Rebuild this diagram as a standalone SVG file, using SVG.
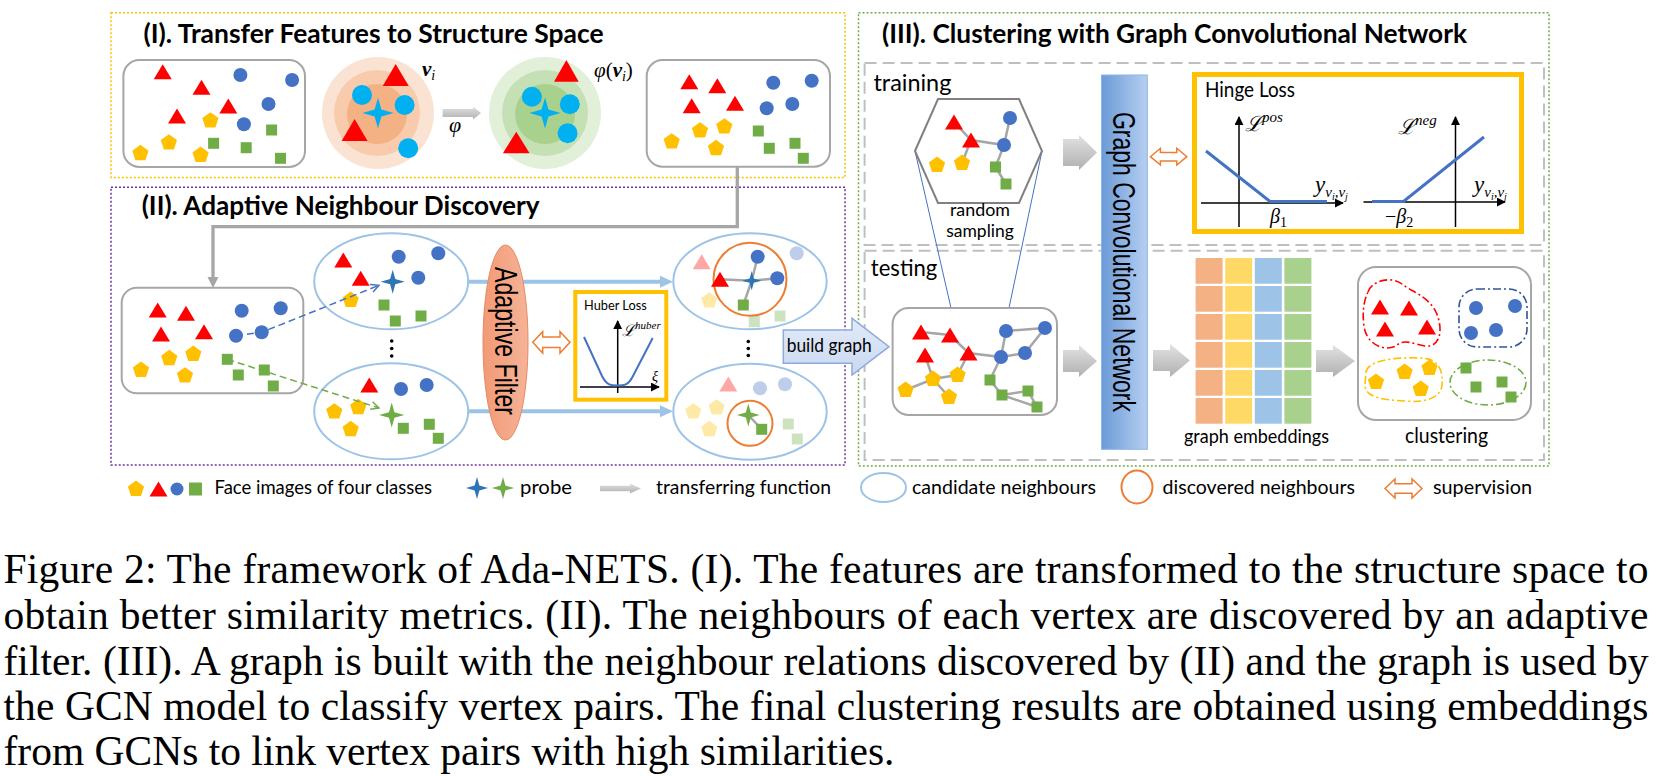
<svg xmlns="http://www.w3.org/2000/svg" width="1665" height="776" viewBox="0 0 1665 776">
<style>
.f{font-family:Lato,"Liberation Sans",sans-serif;fill:#000}
.b{font-weight:bold}
.m{font-family:"Liberation Serif","DejaVu Serif",serif;font-style:italic;fill:#000}
.cap{font-family:"Liberation Serif","Times New Roman",serif;font-size:41.5px;fill:#000}
.rot{font-family:"Liberation Sans",Arial,sans-serif;font-size:32px;fill:#000}
.box{fill:#fff;stroke:#a6a6a6;stroke-width:2}
.cand{fill:#fff;stroke:#9dc3e6;stroke-width:2}
.disc{fill:none;stroke:#ed7d31;stroke-width:2}
.edge{stroke:#a6a6a6;stroke-width:2.5;fill:none}
.ax{stroke:#000;stroke-width:1.5;fill:none;marker-end:url(#ax)}
.hl{fill:none;stroke:#4472c4;stroke-width:3}
.sup{fill:#fff;stroke:#ed7d31;stroke-width:1.5}
.garr{fill:url(#gArr)}
.fade{opacity:.35}
.dash{fill:none;stroke:#bfbfbf;stroke-width:2;stroke-dasharray:12 6}
.dd{fill:none;stroke-width:1.6;stroke-dasharray:8 3 2 3}
.lb{stroke:#9dc3e6;stroke-width:4;fill:none}
</style>
<defs>
<linearGradient id="gArr" x1="0" y1="0" x2="0" y2="1"><stop offset="0" stop-color="#e2e2e2"/><stop offset="1" stop-color="#b0b0b0"/></linearGradient>
<linearGradient id="gGcn" x1="0" y1="0" x2="1" y2="0"><stop offset="0" stop-color="#6b9bd8"/><stop offset="1" stop-color="#b6cff0"/></linearGradient>
<linearGradient id="gFil" x1="0" y1="0" x2="1" y2="0"><stop offset="0" stop-color="#f29a76"/><stop offset="1" stop-color="#f6b397"/></linearGradient>
<linearGradient id="gBg" x1="0" y1="0" x2="0" y2="1"><stop offset="0" stop-color="#e3ebf8"/><stop offset="1" stop-color="#c9d8f1"/></linearGradient>
<marker id="ax" viewBox="0 0 10 10" refX="9" refY="5" markerWidth="9" markerHeight="9" markerUnits="userSpaceOnUse" orient="auto"><path d="M0,0 L10,5 L0,10 Z" fill="#000"/></marker>
<marker id="oaB" viewBox="0 0 10 10" refX="9" refY="5" markerWidth="10" markerHeight="10" markerUnits="userSpaceOnUse" orient="auto"><path d="M1,1 L9,5 L1,9" fill="none" stroke="#4472c4" stroke-width="1.5"/></marker>
<marker id="oaG" viewBox="0 0 10 10" refX="9" refY="5" markerWidth="10" markerHeight="10" markerUnits="userSpaceOnUse" orient="auto"><path d="M1,1 L9,5 L1,9" fill="none" stroke="#70ad47" stroke-width="1.5"/></marker>
<polygon id="tri" points="0,-7.5 9,7.5 -9,7.5" fill="#ff0000"/>
<circle id="cir" r="7" fill="#4472c4"/>
<polygon id="pen" points="0,-8.5 8.1,-2.6 5,6.9 -5,6.9 -8.1,-2.6" fill="#ffc000"/>
<rect id="sq" x="-5.5" y="-5.5" width="11" height="11" fill="#70ad47"/>
<path id="star" d="M-12,0 L-2.6,-2.6 L0,-12 L2.6,-2.6 L12,0 L2.6,2.6 L0,12 L-2.6,2.6 Z"/>
</defs>
<rect width="1665" height="776" fill="#fff"/>

<!-- Section frames -->
<g id="sec1-frame"><rect x="111" y="12.7" width="734" height="164.8" fill="none" stroke="#ffc000" stroke-width="1.5" stroke-dasharray="2 2"/>
<text class="f b" x="143.5" y="43" font-size="27" textLength="460" lengthAdjust="spacingAndGlyphs">(I). Transfer Features to Structure Space</text></g>
<g id="sec2-frame"><rect x="111" y="187.3" width="734" height="277.7" fill="none" stroke="#7030a0" stroke-width="1.5" stroke-dasharray="2 2"/>
<text class="f b" x="141.7" y="215" font-size="27" textLength="398" lengthAdjust="spacingAndGlyphs">(II). Adaptive Neighbour Discovery</text></g>
<g id="sec3-frame"><rect x="858.5" y="12.7" width="690.5" height="453.3" fill="none" stroke="#70ad47" stroke-width="1.5" stroke-dasharray="2 2"/>
<text class="f b" x="882" y="43" font-size="27" textLength="585" lengthAdjust="spacingAndGlyphs">(III). Clustering with Graph Convolutional Network</text></g>
<g id="training-frame"><rect class="dash" x="864.6" y="63" width="679.4" height="182"/>
<text class="f" x="873.4" y="90.5" font-size="24" textLength="78" lengthAdjust="spacingAndGlyphs">training</text></g>
<g id="testing-frame"><rect class="dash" x="864.6" y="250.7" width="679.4" height="209.3"/>
<text class="f" x="870.8" y="276" font-size="24" textLength="66.5" lengthAdjust="spacingAndGlyphs">testing</text></g>

<!-- Connectors (under nodes) -->
<g id="connectors">
<path d="M737.3,167 V226.7 H213 V279" fill="none" stroke="#a6a6a6" stroke-width="3.3"/>
<polygon points="207.5,277 218.5,277 213,288" fill="#a6a6a6"/>
<path class="garr" d="M442.6,109 H473 V106.5 L481,113 L473,119.5 V117 H442.6 Z"/>
<line class="lb" x1="468" y1="281.7" x2="662" y2="281.7"/>
<polygon points="660,275.7 673,281.7 660,287.7" fill="#9dc3e6"/>
<line class="lb" x1="468" y1="411.3" x2="662" y2="411.3"/>
<polygon points="660,405.3 673,411.3 660,417.3" fill="#9dc3e6"/>
<line x1="915" y1="151" x2="951" y2="308" stroke="#4472c4" stroke-width="1"/>
<line x1="1042" y1="151" x2="1009" y2="308" stroke="#4472c4" stroke-width="1"/>
<path class="garr" d="M1063,139 H1079 V135 L1097,152.5 L1079,170 V166 H1063 Z"/>
<path class="garr" d="M1063,350 H1079 V345 L1097,361 L1079,377 V372 H1063 Z"/>
<path class="garr" d="M1153,350 H1170 V344 L1190,360.5 L1170,377 V371 H1153 Z"/>
<path class="garr" d="M1316,350 H1333 V345 L1355,361 L1333,377 V372 H1316 Z"/>
</g>

<!-- Section I nodes -->
<g id="box1">
<rect class="box" x="123.4" y="60" width="181.6" height="107" rx="16"/>
<use href="#tri" x="162.7" y="71.7"/><use href="#tri" x="201.5" y="87.3"/><use href="#tri" x="228.3" y="106"/><use href="#tri" x="177" y="116"/>
<use href="#cir" x="240.4" y="75"/><use href="#cir" x="292.1" y="80"/><use href="#cir" x="268.5" y="104"/><use href="#cir" x="243.9" y="124.3"/>
<use href="#pen" x="210.4" y="120.7"/><use href="#pen" x="168.9" y="142.7"/><use href="#pen" x="140.4" y="153.3"/><use href="#pen" x="200.6" y="155"/>
<use href="#sq" x="213.6" y="143.3"/><use href="#sq" x="271.6" y="130"/><use href="#sq" x="246.2" y="147.7"/><use href="#sq" x="280.5" y="158.3"/>
</g>
<g id="orange-space">
<circle cx="378" cy="113" r="56" fill="#fbe3d4"/>
<circle cx="377" cy="113" r="43" fill="#f8cbad"/>
<circle cx="377" cy="114" r="30" fill="#f4b183"/>
<circle cx="362" cy="95" r="10" fill="#00b0f0"/><circle cx="404.6" cy="105" r="10" fill="#00b0f0"/><circle cx="408.2" cy="148.3" r="10" fill="#00b0f0"/>
<polygon points="395.7,64 408.7,86 382.7,86" fill="#ff0000"/>
<polygon points="354.6,119 367.6,141 341.6,141" fill="#ff0000"/>
<use href="#star" transform="translate(378,113) scale(1.3)" fill="#00b0f0"/>
<text class="m" x="422" y="76" font-size="21"><tspan font-weight="bold">v</tspan><tspan font-size="14" dy="4">i</tspan></text>
</g>
<g id="phi-label"><text class="m" x="449" y="132" font-size="22">φ</text></g>
<g id="green-space">
<circle cx="545" cy="113" r="56" fill="#e2f0d9"/>
<circle cx="545" cy="113" r="43" fill="#c5e0b4"/>
<circle cx="545" cy="114" r="30" fill="#a9d18e"/>
<circle cx="531.9" cy="96.7" r="10" fill="#00b0f0"/><circle cx="569.8" cy="104.3" r="10" fill="#00b0f0"/><circle cx="567.6" cy="133.3" r="10" fill="#00b0f0"/>
<polygon points="566.4,60 578.7,81.7 554,81.7" fill="#ff0000"/>
<polygon points="516.3,131.7 529.6,153.3 502.9,153.3" fill="#ff0000"/>
<use href="#star" transform="translate(545,113) scale(1.3)" fill="#00b0f0"/>
<text class="m" x="594" y="77" font-size="21">φ<tspan font-style="normal">(</tspan><tspan font-weight="bold">v</tspan><tspan font-size="14" dy="4">i</tspan><tspan font-style="normal" dy="-4">)</tspan></text>
</g>
<g id="box4">
<rect class="box" x="646.7" y="60" width="183.3" height="106.7" rx="16"/>
<use href="#tri" x="689.3" y="81.7"/><use href="#tri" x="717.3" y="85.7"/><use href="#tri" x="691.7" y="105.7"/><use href="#tri" x="735" y="103.3"/>
<use href="#cir" x="773.3" y="82.7"/><use href="#cir" x="811.7" y="80.7"/><use href="#cir" x="766.7" y="108.3"/><use href="#cir" x="792.3" y="104"/>
<use href="#pen" x="671.7" y="141.7"/><use href="#pen" x="700" y="130.7"/><use href="#pen" x="724.3" y="126.7"/><use href="#pen" x="716" y="148.3"/>
<use href="#sq" x="758.3" y="131"/><use href="#sq" x="769.3" y="148.3"/><use href="#sq" x="795" y="143.3"/><use href="#sq" x="803.3" y="158.3"/>
</g>

<!-- Section II nodes -->
<g id="box5">
<rect class="box" x="121.7" y="287.7" width="181.6" height="105.6" rx="15"/>
<use href="#tri" x="157.7" y="310"/><use href="#tri" x="186" y="313.3"/><use href="#tri" x="161" y="334"/><use href="#tri" x="204" y="331.7"/>
<use href="#cir" x="241.7" y="310.7"/><use href="#cir" x="280.7" y="308.3"/><use href="#cir" x="236" y="335.7"/><use href="#cir" x="261.7" y="332.3"/>
<use href="#pen" x="169.3" y="358.3"/><use href="#pen" x="193.3" y="354"/><use href="#pen" x="141" y="370"/><use href="#pen" x="185" y="375.7"/>
<use href="#sq" x="227.3" y="359.3"/><use href="#sq" x="238.3" y="375"/><use href="#sq" x="264.3" y="370"/><use href="#sq" x="273.3" y="386"/>
</g>
<g id="candA">
<ellipse class="cand" cx="391.2" cy="281.3" rx="77" ry="48"/>
<use href="#tri" x="343.3" y="260"/><use href="#tri" x="360.7" y="278.3"/>
<use href="#cir" x="398.7" y="256.7"/><use href="#cir" x="438.3" y="253.3"/><use href="#cir" x="418.3" y="277.7"/>
<use href="#pen" x="350.7" y="300"/>
<use href="#sq" x="384" y="305"/><use href="#sq" x="395.3" y="321"/><use href="#sq" x="421" y="316"/>
<use href="#star" transform="translate(392.7,281.7)" fill="#2e75b6"/>
</g>
<g id="dotsL"><circle cx="391.7" cy="341" r="1.8"/><circle cx="391.7" cy="348.5" r="1.8"/><circle cx="391.7" cy="356" r="1.8"/></g>
<g id="candB">
<ellipse class="cand" cx="391.2" cy="411.3" rx="77" ry="48"/>
<use href="#tri" x="369.3" y="385"/>
<use href="#cir" x="401" y="389"/><use href="#cir" x="426.7" y="385"/>
<use href="#pen" x="334.3" y="411.7"/><use href="#pen" x="358.3" y="407.3"/><use href="#pen" x="350.7" y="429.3"/>
<use href="#sq" x="403.3" y="428.3"/><use href="#sq" x="429.3" y="424.3"/><use href="#sq" x="438.3" y="438.3"/>
<use href="#star" transform="translate(391.7,415) scale(1.05)" fill="#70ad47"/>
</g>
<g id="adaptive-filter">
<ellipse cx="505.5" cy="342.5" rx="22.5" ry="97.5" fill="url(#gFil)" stroke="#e58a62" stroke-width="1"/>
<text class="rot" transform="translate(506.5,341) rotate(90)" x="0" y="11.5" text-anchor="middle" textLength="148" lengthAdjust="spacingAndGlyphs">Adaptive Filter</text>
</g>
<g id="supervision2"><path class="sup" d="M532.7,342.3 L542.7,331.7 V337 H560 V331.7 L570,342.3 L560,353 V347.6 H542.7 V353 Z"/></g>
<g id="huber">
<rect x="575.3" y="292" width="91" height="107.7" fill="#fff" stroke="#ffc000" stroke-width="4"/>
<text class="f" x="584" y="310" font-size="14" textLength="62.7" lengthAdjust="spacingAndGlyphs">Huber Loss</text>
<path class="ax" d="M617.7,393 V321"/>
<path class="ax" d="M580,387 H659"/>
<path d="M584,337 L602,376 C607,386 612,385.5 617.7,385.5 C623,385.5 628,386 633,376 L652.7,338" fill="none" stroke="#4472c4" stroke-width="2"/>
<text class="m" x="622" y="336" font-size="16" font-style="normal">ℒ<tspan class="m" font-size="11" dy="-7">huber</tspan></text>
<text class="m" x="652" y="381" font-size="14">ξ</text>
</g>
<g id="candC">
<ellipse class="cand" cx="750" cy="281.3" rx="76.7" ry="48"/>
<circle class="disc" cx="750" cy="279.3" r="36.5"/>
<use class="fade" href="#tri" x="701.7" y="261.7"/>
<use class="fade" href="#cir" x="796.7" y="253.3"/>
<use class="fade" href="#pen" x="709.3" y="300.7"/>
<use class="fade" href="#sq" x="754.3" y="321.7"/><use class="fade" href="#sq" x="780" y="316"/>
<path class="edge" d="M751.7,280.7 L720,279.3 M751.7,280.7 L757.7,256.7 M751.7,280.7 L777.3,278.3 M751.7,280.7 L743.3,305"/>
<use href="#tri" x="720" y="279.3"/>
<use href="#cir" x="757.7" y="256.7"/><use href="#cir" x="777.3" y="278.3"/>
<use href="#sq" x="743.3" y="305"/>
<use href="#star" transform="translate(751.7,280.7) scale(0.8)" fill="#2e75b6"/>
</g>
<g id="dotsR"><circle cx="748.3" cy="341.5" r="1.8"/><circle cx="748.3" cy="348.5" r="1.8"/><circle cx="748.3" cy="355.5" r="1.8"/></g>
<g id="candD">
<ellipse class="cand" cx="750" cy="411.7" rx="76.7" ry="48"/>
<circle class="disc" cx="750" cy="423.3" r="22.5"/>
<use class="fade" href="#tri" x="728.3" y="384"/>
<use class="fade" href="#cir" x="760" y="388.3"/><use class="fade" href="#cir" x="785" y="384.3"/>
<use class="fade" href="#pen" x="693.3" y="411.7"/><use class="fade" href="#pen" x="716.7" y="407.7"/><use class="fade" href="#pen" x="709.3" y="429.3"/>
<use class="fade" href="#sq" x="788.3" y="424"/><use class="fade" href="#sq" x="797.3" y="439"/>
<path class="edge" d="M748.3,415 L761.7,429.3"/>
<use href="#sq" x="761.7" y="429.3"/>
<use href="#star" transform="translate(748.3,415) scale(0.95)" fill="#70ad47"/>
</g>
<g id="build-graph">
<path d="M783.3,330 H852 V318.3 L889,346.7 L852,375 V363.3 H783.3 Z" fill="url(#gBg)" stroke="#8faadc" stroke-width="1.5"/>
<text class="f" x="786.7" y="352" font-size="18.4" textLength="85" lengthAdjust="spacingAndGlyphs">build graph</text>
</g>

<!-- Section III nodes -->
<g id="hexagon">
<polygon points="915,151 938,99 1019,99 1042,151 1019,203 938,203" fill="#fff" stroke="#808080" stroke-width="2"/>
<path class="edge" d="M954,122 L971,140 L1004,145 L1010,118 M1004,145 L995.5,167 L1006,184 M971,140 L962,163"/>
<use href="#tri" x="954" y="122"/><use href="#tri" x="971" y="140"/>
<use href="#cir" x="1010" y="118"/><use href="#cir" x="1004" y="145"/>
<use href="#pen" x="937" y="165"/><use href="#pen" x="962" y="163"/>
<use href="#sq" x="995.5" y="167"/><use href="#sq" x="1006" y="184"/>
<text class="f" x="980" y="215.5" font-size="17" text-anchor="middle" textLength="60" lengthAdjust="spacingAndGlyphs">random</text>
<text class="f" x="980" y="236.5" font-size="17" text-anchor="middle" textLength="67.7" lengthAdjust="spacingAndGlyphs">sampling</text>
</g>
<g id="gcn">
<rect x="1101.5" y="75" width="45.8" height="374.3" fill="url(#gGcn)" stroke="#8eb4e3" stroke-width="1"/>
<text class="rot" transform="translate(1124,262) rotate(90)" x="0" y="11.5" text-anchor="middle" textLength="300" lengthAdjust="spacingAndGlyphs">Graph Convolutional Network</text>
</g>
<g id="supervision3"><path class="sup" d="M1150.4,156.7 L1160.4,148.3 V152.5 H1176.8 V148.3 L1186.8,156.7 L1176.8,165 V160.9 H1160.4 V165 Z"/></g>
<g id="hinge">
<rect x="1194.5" y="74.5" width="327" height="157" fill="#fff" stroke="#ffc000" stroke-width="5"/>
<text class="f" x="1205" y="96.7" font-size="21" textLength="90" lengthAdjust="spacingAndGlyphs">Hinge Loss</text>
<path class="ax" d="M1239,227 V117"/>
<path class="ax" d="M1201,203 H1343"/>
<path class="ax" d="M1455.5,227 V117"/>
<path class="ax" d="M1363.5,202 H1505"/>
<path class="hl" d="M1206,151 L1270,201.5 H1327"/>
<path class="hl" d="M1372,201.5 H1403.5 L1484,137"/>
<text class="m" x="1245" y="131" font-size="21" font-style="normal">ℒ<tspan class="m" font-size="15" dy="-9">pos</tspan></text>
<text class="m" x="1398" y="134" font-size="21" font-style="normal">ℒ<tspan class="m" font-size="15" dy="-9">neg</tspan></text>
<text class="m" x="1315" y="192" font-size="23">y<tspan font-size="15" dy="5">v</tspan><tspan font-size="10" dy="3">i</tspan><tspan font-size="15" dy="-3">,v</tspan><tspan font-size="10" dy="3">j</tspan></text>
<text class="m" x="1474" y="192" font-size="23">y<tspan font-size="15" dy="5">v</tspan><tspan font-size="10" dy="3">i</tspan><tspan font-size="15" dy="-3">,v</tspan><tspan font-size="10" dy="3">j</tspan></text>
<text class="m" x="1270" y="223" font-size="20">β<tspan font-style="normal" font-size="14" dy="4">1</tspan></text>
<text class="m" x="1385" y="223" font-size="20"><tspan font-style="normal">−</tspan>β<tspan font-style="normal" font-size="14" dy="4">2</tspan></text>
</g>
<g id="graph-box">
<rect class="box" x="892.6" y="308" width="164.4" height="107" rx="16"/>
<path class="edge" d="M921,332 L950,335 L968.5,353 L1001,357 L1006,331 L1045,328 L1025,353 L1001,357 L990,380 L1002,395 L1028,391 L1037,407 L1002,395 M925,355 L933,379 M968.5,353 L957.6,375 M905.6,390 L933,379 L949,397 M933,379 L957.6,375"/>
<use href="#tri" x="921" y="332"/><use href="#tri" x="950" y="335"/><use href="#tri" x="925" y="355"/><use href="#tri" x="968.5" y="353"/>
<use href="#cir" x="1006" y="331"/><use href="#cir" x="1045" y="328"/><use href="#cir" x="1001" y="357"/><use href="#cir" x="1025" y="353"/>
<use href="#pen" x="905.6" y="390"/><use href="#pen" x="933" y="379"/><use href="#pen" x="957.6" y="375"/><use href="#pen" x="949" y="397"/>
<use href="#sq" x="990" y="380"/><use href="#sq" x="1002" y="395"/><use href="#sq" x="1028" y="391"/><use href="#sq" x="1037" y="407"/>
</g>
<g id="embeddings">
<g fill="#f4b183"><rect x="1195.6" y="258" width="27" height="25.7"/><rect x="1195.6" y="286" width="27" height="25.7"/><rect x="1195.6" y="314" width="27" height="25.7"/><rect x="1195.6" y="342" width="27" height="25.7"/><rect x="1195.6" y="370" width="27" height="25.7"/><rect x="1195.6" y="398" width="27" height="25.7"/></g>
<g fill="#ffd966"><rect x="1225.2" y="258" width="27" height="25.7"/><rect x="1225.2" y="286" width="27" height="25.7"/><rect x="1225.2" y="314" width="27" height="25.7"/><rect x="1225.2" y="342" width="27" height="25.7"/><rect x="1225.2" y="370" width="27" height="25.7"/><rect x="1225.2" y="398" width="27" height="25.7"/></g>
<g fill="#9dc3e6"><rect x="1254.8" y="258" width="27" height="25.7"/><rect x="1254.8" y="286" width="27" height="25.7"/><rect x="1254.8" y="314" width="27" height="25.7"/><rect x="1254.8" y="342" width="27" height="25.7"/><rect x="1254.8" y="370" width="27" height="25.7"/><rect x="1254.8" y="398" width="27" height="25.7"/></g>
<g fill="#a9d18e"><rect x="1284.4" y="258" width="27" height="25.7"/><rect x="1284.4" y="286" width="27" height="25.7"/><rect x="1284.4" y="314" width="27" height="25.7"/><rect x="1284.4" y="342" width="27" height="25.7"/><rect x="1284.4" y="370" width="27" height="25.7"/><rect x="1284.4" y="398" width="27" height="25.7"/></g>
<text class="f" x="1184" y="443" font-size="19.5" textLength="145" lengthAdjust="spacingAndGlyphs">graph embeddings</text>
</g>
<g id="clustering">
<rect class="box" x="1358" y="267" width="173" height="153" rx="18"/>
<path class="dd" stroke="#ff0000" d="M1368,292 C1372,280 1392,276 1402,284 C1412,292 1428,296 1436,312 C1444,330 1440,348 1425,346 C1412,344 1404,338 1396,346 C1384,352 1366,344 1364,326 C1362,312 1364,300 1368,292 Z"/>
<rect class="dd" stroke="#2f5597" x="1459" y="289" width="68" height="58" rx="18"/>
<path class="dd" stroke="#ffc000" d="M1366,372 C1368,360 1395,357 1420,358 C1440,358 1443,372 1442,385 C1441,398 1425,403 1405,401 C1385,400 1365,398 1365,385 Z"/>
<ellipse class="dd" stroke="#70ad47" cx="1488" cy="382.5" rx="38" ry="22.5"/>
<use href="#tri" x="1380" y="307"/><use href="#tri" x="1409" y="308"/><use href="#tri" x="1385" y="329"/><use href="#tri" x="1427" y="327"/>
<use href="#cir" x="1476" y="308"/><use href="#cir" x="1515" y="306"/><use href="#cir" x="1471" y="333"/><use href="#cir" x="1496" y="330"/>
<use href="#pen" x="1376" y="382"/><use href="#pen" x="1404.6" y="372"/><use href="#pen" x="1429.5" y="368"/><use href="#pen" x="1420.7" y="389"/>
<use href="#sq" x="1466" y="368"/><use href="#sq" x="1476" y="387"/><use href="#sq" x="1502" y="382"/><use href="#sq" x="1511" y="397"/>
<text class="f" x="1405" y="443" font-size="21" textLength="83" lengthAdjust="spacingAndGlyphs">clustering</text>
</g>

<!-- Connectors drawn over nodes -->
<g id="connectors-top">
<path d="M236,335.7 L261.7,332.3 L379,285.3" fill="none" stroke="#4472c4" stroke-width="1.5" stroke-dasharray="7 4" marker-end="url(#oaB)"/>
<path d="M227.3,359.3 L379,408" fill="none" stroke="#70ad47" stroke-width="1.5" stroke-dasharray="7 4" marker-end="url(#oaG)"/>
</g>

<!-- Legend -->
<g id="legend">
<use href="#pen" x="136" y="489"/><use href="#tri" x="158.5" y="489"/><circle cx="177" cy="489" r="6.5" fill="#4472c4"/><rect x="189" y="482.5" width="13" height="13" fill="#70ad47"/>
<text class="f" x="214.5" y="494" font-size="19" textLength="217.5" lengthAdjust="spacingAndGlyphs">Face images of four classes</text>
<use href="#star" transform="translate(477,488) scale(0.92)" fill="#2e75b6"/>
<use href="#star" transform="translate(503,488) scale(0.92)" fill="#70ad47"/>
<text class="f" x="520" y="494" font-size="19" textLength="52" lengthAdjust="spacingAndGlyphs">probe</text>
<path class="garr" d="M600,485.7 H630 V483.5 L641,488.5 L630,493.5 V491.3 H600 Z"/>
<text class="f" x="656" y="494" font-size="19" textLength="175" lengthAdjust="spacingAndGlyphs">transferring function</text>
<ellipse class="cand" cx="883.5" cy="487.5" rx="22.5" ry="14.5"/>
<text class="f" x="912" y="494" font-size="19" textLength="184" lengthAdjust="spacingAndGlyphs">candidate neighbours</text>
<ellipse class="disc" cx="1137" cy="487" rx="15.5" ry="16.5"/>
<text class="f" x="1162.6" y="494" font-size="19" textLength="192.4" lengthAdjust="spacingAndGlyphs">discovered neighbours</text>
<path class="sup" d="M1385,488.5 L1395,479 V483.75 H1412 V479 L1422,488.5 L1412,498 V493.25 H1395 V498 Z"/>
<text class="f" x="1433" y="494" font-size="19" textLength="99" lengthAdjust="spacingAndGlyphs">supervision</text>
</g>

<!-- Caption -->
<g id="caption">
<text class="cap" x="3.5" y="583" textLength="1645" lengthAdjust="spacing">Figure 2: The framework of Ada-NETS. (I). The features are transformed to the structure space to</text>
<text class="cap" x="3.5" y="629" textLength="1645" lengthAdjust="spacing">obtain better similarity metrics. (II). The neighbours of each vertex are discovered by an adaptive</text>
<text class="cap" x="3.5" y="675" textLength="1645" lengthAdjust="spacing">filter. (III). A graph is built with the neighbour relations discovered by (II) and the graph is used by</text>
<text class="cap" x="3.5" y="720" textLength="1645" lengthAdjust="spacing">the GCN model to classify vertex pairs. The final clustering results are obtained using embeddings</text>
<text class="cap" x="3.5" y="765">from GCNs to link vertex pairs with high similarities.</text>
</g>
</svg>
